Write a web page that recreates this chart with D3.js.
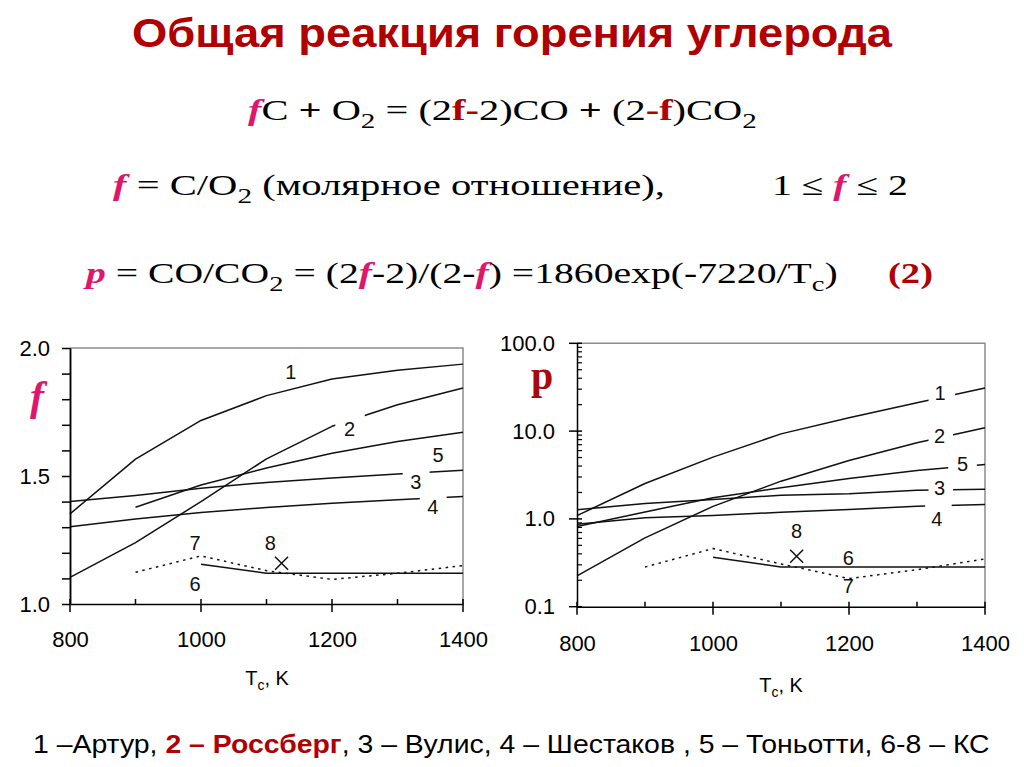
<!DOCTYPE html>
<html><head><meta charset="utf-8">
<script src="https://cdn.jsdelivr.net/npm/d3@7/dist/d3.min.js"></script>
<style>html,body{margin:0;padding:0;background:#fff;}svg{display:block}text{white-space:pre}</style>
</head><body>
<svg id="c" width="1024" height="767"></svg>
<script>
// ---------- data ----------
const temperatures = [800, 900, 1000, 1100, 1200, 1300, 1400];
const curveNames = ["1", "2", "3", "4", "5", "6", "7"];
// left chart: f = C/O2
const fArthur   = [1.352, 1.566, 1.717, 1.814, 1.879, 1.913, 1.937];
const fRossberg = [1.104, 1.240, 1.400, 1.567, 1.694, 1.778, 1.844];
const fVulis    = [1.400, 1.424, 1.452, 1.475, 1.492, 1.508, 1.522];
const fShestak  = [1.302, 1.332, 1.357, 1.377, 1.394, 1.407, 1.420];
const fTonotti  = [null, 1.378, 1.465, 1.531, 1.589, 1.635, 1.671];
const fKS6      = [null, null, 1.155, 1.120, 1.120, 1.120, 1.120];
const fKS7      = [null, 1.124, 1.188, 1.130, 1.096, 1.120, 1.150];
const fKS8      = [1123, 1.159];
// right chart: p = CO/CO2
const pArthur   = [1.09, 2.53, 5.05, 9.3, 14.2, 21.0, 31.0];
const pRossberg = [0.224, 0.607, 1.39, 2.69, 4.63, 7.36, 10.9];
const pVulis    = [1.27, 1.50, 1.66, 1.86, 1.94, 2.12, 2.18];
const pShestak  = [0.87, 1.03, 1.09, 1.19, 1.28, 1.39, 1.46];
const pTonotti  = [0.82, 1.20, 1.74, 2.26, 2.88, 3.55, 4.17];
const pKS6      = [null, null, 0.366, 0.283, 0.283, 0.283, 0.283];
const pKS7      = [null, 0.283, 0.459, 0.307, 0.209, 0.264, 0.350];
const pKS8      = [1123, 0.375];
// ticks
const xTickMajor = [800, 1000, 1200, 1400];
const xTickMinor = [900, 1100, 1300];
const fTickMajor = [1.0, 1.5, 2.0];
const fTickMinor = [1.1, 1.2, 1.3, 1.4, 1.6, 1.7, 1.8, 1.9];
const pTickMajor = [0.1, 1, 10, 100];
// label breaks (temperature ranges where a curve is interrupted by its label)
const fGaps = {"2": [1205, 1250], "3": [1308, 1349], "4": [1334, 1375]};
const pGaps = {"1": [1317, 1356], "2": [1317, 1353], "3": [1317, 1353], "4": [1312, 1351], "5": [1346, 1388]};
// curve labels [name, T, value]
const fLabels = [["1",1137,1.907],["2",1227,1.684],["5",1362,1.582],["3",1328,1.475],["4",1354,1.380],["7",991,1.237],["8",1106,1.237],["6",991,1.078]];
const pLabels = [["1",1334,27.2],["2",1333,8.68],["5",1367,4.22],["3",1333,2.25],["4",1329,1.0],["8",1123,0.723],["6",1199,0.36],["7",1199,0.171]];
// texts
const titleText = "Общая реакция горения углерода";
const legendParts = [["1 –Артур, ", 0], ["2 – Россберг", 1], [", 3 – Вулис, 4 – Шестаков , 5 – Тоньотти, 6-8 – КС", 0]];

// ---------- drawing ----------
const svg = d3.select("#c");
const defs = svg.append("defs");
const SANS = "'Liberation Sans', Arial, sans-serif";
const SERIF = "'Liberation Serif', 'Times New Roman', serif";
const PINK = "#e0166c", DRED = "#b00000";

function fitX(sel, x0, width) {
  const bb = sel.node().getBBox();
  const s = width / bb.width;
  sel.attr("transform", `translate(${x0},0) scale(${s},1) translate(${-bb.x},0)`);
}

// title
const title = svg.append("text").attr("x", 0).attr("y", 47)
  .attr("font-family", SANS).attr("font-weight", "bold").attr("font-size", 40)
  .attr("fill", DRED).text(titleText);
fitX(title, 132, 761);

// formula helper
function formula(y, segs, x0, width, size) {
  const t = svg.append("text").attr("x", 0).attr("y", y)
    .attr("font-family", SERIF).attr("font-size", size).attr("fill", "#000");
  let shifted = 0;
  segs.forEach(s => {
    const ts = t.append("tspan").text(s.t);
    let dy = 0;
    if (s.sub) { dy = 8 - shifted; shifted = 8; ts.attr("font-size", size * 0.72); }
    else if (shifted) { dy = -shifted; shifted = 0; }
    if (dy) ts.attr("dy", dy);
    if (s.c === "p") ts.attr("fill", PINK).attr("font-style", "italic").attr("font-weight", "bold");
    if (s.c === "r") ts.attr("fill", DRED).attr("font-weight", "bold");
    if (s.c === "b") ts.attr("font-weight", "bold");
  });
  fitX(t, x0, width);
  return t;
}
formula(120, [{t:"f",c:"p"},{t:"C "},{t:"+",c:"b"},{t:" O"},{t:"2",sub:1},{t:" = (2"},{t:"f-",c:"r"},{t:"2)CO "},{t:"+",c:"b"},{t:" (2"},{t:"-f",c:"r"},{t:")CO"},{t:"2",sub:1}], 248, 509, 30);
formula(195, [{t:"f",c:"p"},{t:" = C/O"},{t:"2",sub:1},{t:" (молярное отношение),"}], 113, 552, 30);
formula(195, [{t:"1 ≤ "},{t:"f",c:"p"},{t:" ≤ 2"}], 772, 136, 30);
formula(283, [{t:"p",c:"p"},{t:" = CO/CO"},{t:"2",sub:1},{t:" = (2"},{t:"f",c:"p"},{t:"-2)/(2-"},{t:"f",c:"p"},{t:") =1860exp(-7220/T"},{t:"c",sub:1},{t:")"}], 82, 756, 30);
formula(283, [{t:"(2)",c:"r"}], 888, 45, 30);

// legend
const leg = svg.append("text").attr("x", 0).attr("y", 753)
  .attr("font-family", SANS).attr("font-size", 25).attr("fill", "#000");
legendParts.forEach(([s, hl]) => {
  const ts = leg.append("tspan").text(s);
  if (hl) ts.attr("fill", DRED).attr("font-weight", "bold");
});
fitX(leg, 33, 957);

// ---------- chart helper ----------
function chart(cfg) {
  const {x, y, series, gaps, labels, point, id} = cfg;
  const x0 = x.range()[0], x1 = x.range()[1];
  const yb = y.range()[0], yt = y.range()[1];
  const g = svg.append("g");
  // frame
  g.append("path").attr("d", `M${x0},${yt}H${x1}V${yb}`).attr("fill", "none")
    .attr("stroke", "#8c8c8c").attr("stroke-width", 1.5);
  // curves
  const line = d3.line().defined(d => d[1] != null).x(d => x(d[0])).y(d => y(d[1]));
  series.forEach((s, i) => {
    const pts = temperatures.map((t, k) => [t, s.v[k]]);
    const p = g.append("path").datum(pts).attr("d", line).attr("fill", "none")
      .attr("stroke", "#111").attr("stroke-width", 1.5).attr("stroke-linejoin", "round");
    if (s.dotted) p.attr("stroke-dasharray", "2.5,4.5");
    const gp = gaps[s.name];
    if (gp) {
      const mid = `m-${id}-${s.name}`;
      const m = defs.append("mask").attr("id", mid).attr("maskUnits", "userSpaceOnUse")
        .attr("x", 0).attr("y", 0).attr("width", 1024).attr("height", 767);
      m.append("rect").attr("width", 1024).attr("height", 767).attr("fill", "#fff");
      m.append("rect").attr("x", x(gp[0])).attr("width", x(gp[1]) - x(gp[0]))
        .attr("y", 0).attr("height", 767).attr("fill", "#000");
      p.attr("mask", `url(#${mid})`);
    }
  });
  // point 8 (cross)
  const px = x(point[0]), py = y(point[1]), r = 6.5;
  g.append("path").attr("d", `M${px-r},${py-r}L${px+r},${py+r}M${px-r},${py+r}L${px+r},${py-r}`)
    .attr("stroke", "#111").attr("stroke-width", 1.5);
  // curve labels
  g.selectAll(".lbl").data(labels).join("text")
    .attr("x", d => x(d[1])).attr("y", d => y(d[2])).attr("dy", "0.35em")
    .attr("text-anchor", "middle").attr("font-family", SANS).attr("font-size", 20)
    .attr("fill", "#111").text(d => d[0]);
  // x axis
  const xa = g.append("g").attr("transform", `translate(0,${yb})`)
    .call(d3.axisBottom(x).tickValues(xTickMajor).tickSize(0).tickPadding(cfg.xPad)
      .tickSizeOuter(0).tickFormat(d3.format("d")));
  xa.select(".domain").attr("stroke-width", 1.5).attr("stroke", "#000");
  xa.selectAll("text").attr("font-family", SANS).attr("font-size", 22).attr("fill", "#000");
  g.selectAll(".xmaj").data(xTickMajor).join("line").attr("x1", d => x(d)).attr("x2", d => x(d))
    .attr("y1", yb - 5).attr("y2", yb + 8).attr("stroke", "#000").attr("stroke-width", 1.5);
  g.selectAll(".xmin").data(xTickMinor).join("line").attr("x1", d => x(d)).attr("x2", d => x(d))
    .attr("y1", yb - 5).attr("y2", yb).attr("stroke", "#000").attr("stroke-width", 1.5);
  return g;
}

const seriesF = [
  {name:"1", v:fArthur}, {name:"2", v:fRossberg}, {name:"3", v:fVulis}, {name:"4", v:fShestak},
  {name:"5", v:fTonotti}, {name:"6", v:fKS6}, {name:"7", v:fKS7, dotted:true}];
const seriesP = [
  {name:"1", v:pArthur}, {name:"2", v:pRossberg}, {name:"3", v:pVulis}, {name:"4", v:pShestak},
  {name:"5", v:pTonotti}, {name:"6", v:pKS6}, {name:"7", v:pKS7, dotted:true}];

// left chart
const xL = d3.scaleLinear().domain([800, 1400]).range([70, 463]);
const yL = d3.scaleLinear().domain([1, 2]).range([604, 348]);
const gL = chart({id:"L", x:xL, y:yL, series:seriesF, gaps:fGaps, labels:fLabels, point:fKS8, xPad:27});
const yaL = gL.append("g").attr("transform", "translate(70,0)")
  .call(d3.axisLeft(yL).tickValues(fTickMajor).tickSize(8).tickPadding(12).tickSizeOuter(0)
    .tickFormat(d3.format(".1f")));
const yaL2 = gL.append("g").attr("transform", "translate(70,0)")
  .call(d3.axisLeft(yL).tickValues(fTickMinor).tickSize(8).tickSizeOuter(0).tickFormat(""));
[yaL, yaL2].forEach(a => {
  a.selectAll("line,.domain").attr("stroke", "#000").attr("stroke-width", 1.5);
  a.selectAll("text").attr("font-family", SANS).attr("font-size", 22).attr("fill", "#000");
});
gL.append("text").attr("x", 37).attr("y", 410).attr("text-anchor", "middle")
  .attr("font-family", SERIF).attr("font-size", 42).attr("font-style", "italic").attr("font-weight", "bold")
  .attr("fill", PINK).text("f");
const tL = gL.append("text").attr("x", 267).attr("y", 685).attr("text-anchor", "middle")
  .attr("font-family", SANS).attr("font-size", 20).attr("fill", "#000");
tL.append("tspan").text("T");
tL.append("tspan").attr("font-size", 14).attr("dy", 5).text("c");
tL.append("tspan").attr("dy", -5).text(", K");

// right chart
const xR = d3.scaleLinear().domain([800, 1400]).range([577, 985]);
const yR = d3.scaleLog().domain([0.1, 100]).range([606.7, 343.3]);
const gR = chart({id:"R", x:xR, y:yR, series:seriesP, gaps:pGaps, labels:pLabels, point:pKS8, xPad:29});
const yaR = gR.append("g").attr("transform", "translate(577,0)")
  .call(d3.axisLeft(yR).tickValues(pTickMajor).tickSize(0).tickPadding(22).tickSizeOuter(0)
    .tickFormat(d3.format(".1f")));
yaR.select(".domain").attr("stroke", "#000").attr("stroke-width", 1.5);
yaR.selectAll("text").attr("font-family", SANS).attr("font-size", 22).attr("fill", "#000");
const pMinor = yR.ticks().filter(v => !pTickMajor.some(m => Math.abs(m - v) < 1e-9));
gR.selectAll(".ymin").data(pMinor).join("line").attr("x1", 577).attr("x2", 582)
  .attr("y1", d => yR(d)).attr("y2", d => yR(d)).attr("stroke", "#000").attr("stroke-width", 1.2);
gR.selectAll(".ymaj").data(pTickMajor).join("line").attr("x1", 569).attr("x2", 582)
  .attr("y1", d => yR(d)).attr("y2", d => yR(d)).attr("stroke", "#000").attr("stroke-width", 1.5);
gR.append("text").attr("x", 542).attr("y", 389).attr("text-anchor", "middle")
  .attr("font-family", SERIF).attr("font-size", 40).attr("font-weight", "bold")
  .attr("fill", "#a80a0a").text("p");
const tR = gR.append("text").attr("x", 781).attr("y", 692).attr("text-anchor", "middle")
  .attr("font-family", SANS).attr("font-size", 20).attr("fill", "#000");
tR.append("tspan").text("T");
tR.append("tspan").attr("font-size", 14).attr("dy", 5).text("c");
tR.append("tspan").attr("dy", -5).text(", K");
</script>
</body></html>
